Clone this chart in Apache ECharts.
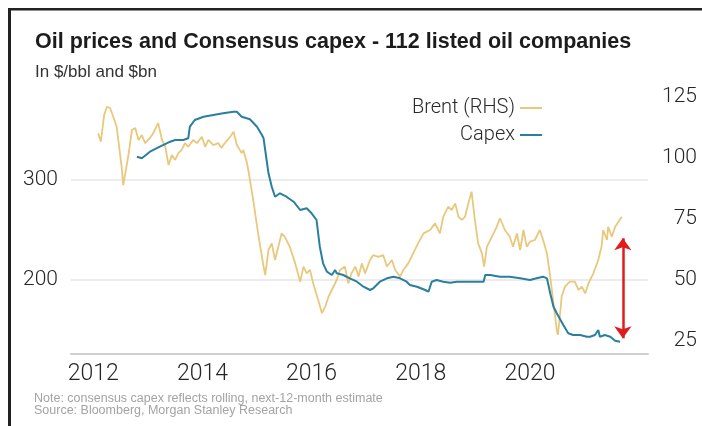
<!DOCTYPE html>
<html>
<head>
<meta charset="utf-8">
<script src="https://cdn.jsdelivr.net/npm/echarts@6/dist/echarts.min.js"></script>
<style>
html,body{margin:0;padding:0;background:#fff;}
#chart{width:702px;height:426px;}
</style>
</head>
<body>
<div id="chart"></div>
<script>
// ---- data ----
const brentDates = [2012.09,2012.14,2012.2,2012.25,2012.31,2012.43,2012.52,2012.55,2012.64,2012.71,2012.77,2012.83,2012.89,2012.95,
  2013.04,2013.1,2013.19,2013.26,2013.32,2013.38,2013.44,2013.5,2013.56,2013.62,2013.68,2013.74,2013.83,2013.9,2013.99,
  2014.05,2014.11,2014.2,2014.29,2014.35,2014.41,2014.51,2014.57,2014.63,2014.72,2014.75,2014.81,2014.84,2014.93,
  2015.02,2015.12,2015.15,2015.21,2015.27,2015.33,2015.39,2015.45,2015.51,2015.6,2015.7,2015.79,2015.85,2015.91,2015.97,
  2016.03,2016.12,2016.19,2016.25,2016.31,2016.37,2016.46,2016.52,2016.61,2016.67,2016.73,2016.8,2016.86,2016.92,2016.98,
  2017.07,2017.13,2017.22,2017.31,2017.38,2017.47,2017.53,2017.62,2017.68,2017.77,2017.86,2017.95,
  2018.05,2018.17,2018.26,2018.35,2018.41,2018.5,2018.57,2018.63,2018.69,2018.75,2018.81,2018.87,2018.93,2018.99,
  2019.05,2019.12,2019.16,2019.21,2019.3,2019.39,2019.45,2019.54,2019.63,2019.69,2019.76,2019.82,2019.88,2019.94,
  2020.0,2020.09,2020.18,2020.24,2020.31,2020.37,2020.43,2020.49,2020.51,2020.54,2020.58,2020.64,2020.73,2020.82,2020.89,2020.95,
  2021.01,2021.07,2021.16,2021.25,2021.31,2021.34,2021.41,2021.43,2021.5,2021.56,2021.62,2021.68];
const brentPrices = [110.1,106.7,117.6,121.0,120.5,112.8,96.4,88.9,100.5,111.5,112.3,107.4,109.4,106.1,
  108.2,110.2,114.3,107.4,104.6,97.1,101.2,99.2,102.0,103.3,106.1,104.6,107.4,106.1,108.7,
  104.6,107.4,105.3,106.1,104.1,106.1,108.7,110.8,105.3,102.0,103.3,98.5,95.1,82.8,
  69.1,55.5,52.0,62.3,65.0,58.2,63.6,69.1,67.7,63.6,56.8,49.3,55.5,52.7,54.1,
  48.6,41.8,36.4,39.1,43.2,45.9,50.0,54.1,55.5,48.6,52.7,55.5,51.4,56.8,52.7,
  58.2,60.2,59.5,60.2,55.5,58.2,54.1,51.4,54.1,56.8,60.9,65.0,
  69.1,70.5,73.2,69.1,75.9,80.0,78.7,81.4,75.9,74.6,75.9,81.4,86.2,74.6,
  65.0,60.9,55.5,63.6,67.7,71.8,75.3,70.5,67.7,63.6,69.1,62.3,70.5,63.6,
  65.7,66.4,70.5,66.4,60.9,51.4,40.5,29.5,27.5,33.6,43.2,47.3,49.3,49.3,45.9,47.3,
  44.5,48.6,52.7,58.2,63.6,70.5,66.4,71.8,67.7,71.8,73.9,75.9];

const capexDates = [2012.8,2012.89,2013.04,2013.22,2013.41,2013.5,2013.65,2013.74,2013.77,2013.86,
  2014.02,2014.2,2014.38,2014.57,2014.63,2014.72,2014.87,2015.0,2015.09,2015.12,2015.15,2015.21,2015.27,2015.33,
  2015.42,2015.54,2015.67,2015.79,2015.91,2016.0,2016.09,2016.15,2016.21,2016.28,2016.37,2016.43,2016.46,2016.58,
  2016.7,2016.83,2016.95,2017.07,2017.13,2017.25,2017.38,2017.5,2017.62,2017.74,2017.8,2017.93,
  2018.08,2018.14,2018.2,2018.29,2018.41,2018.54,2018.66,2018.84,2019.02,2019.15,2019.18,2019.27,2019.45,2019.63,2019.82,
  2020.0,2020.12,2020.24,2020.31,2020.37,2020.43,2020.49,2020.61,2020.7,2020.79,2020.92,
  2021.04,2021.1,2021.19,2021.25,2021.28,2021.37,2021.47,2021.56,2021.65];
const capexValues = [323.3,321.7,328.3,333.3,338.3,340,340,341.7,353.3,360,
  363.3,365,366.7,368.3,368.3,363.3,360.7,353.3,345,341.7,330,306.7,293.3,283.3,
  286.7,283.3,278.3,270,271.7,266.7,260,233.3,216.7,208.3,205,210,206.7,205,
  201.7,198.3,193.3,190,191.7,198.3,201.7,203.3,201.7,198.3,195,193.3,
  190,188.3,198.3,200,198.3,197.3,198.3,198.3,198.3,198.3,205,205,203.3,203.3,201.7,
  200,201.7,203.3,201.7,186.7,173.3,166.7,155,146.7,145,145,
  143.3,143.3,145,150,143.3,145,143.3,139.3,138.3];

const xTickLabels = [2012, 2014, 2016, 2018, 2020];
const leftTickLabels = [200, 300];
const rightTickLabels = [25, 50, 75, 100, 125];
const arrowYear = 2021.70, arrowHigh = 67.1, arrowLow = 26.1;

const zip = (a, b) => a.map((v, i) => [v, b[i]]);

const chart = echarts.init(document.getElementById('chart'));
const tickFont = 'Roboto, "DejaVu Sans", sans-serif';
const textFont = '"Liberation Sans", Arial, sans-serif';
chart.setOption({
  animation: false,
  backgroundColor: '#fff',
  title: [
    { text: 'Oil prices and Consensus capex - 112 listed oil companies', left: 35, top: 31, padding: 0,
      textStyle: { fontFamily: textFont, fontWeight: 'bold', fontSize: 21.5, color: '#1c1c1c' } },
    { text: 'In $/bbl and $bn', left: 35, top: 63.5, padding: 0,
      textStyle: { fontFamily: textFont, fontWeight: 'normal', fontSize: 17, color: '#333' } },
    { text: 'Note: consensus capex reflects rolling, next-12-month estimate', left: 34, top: 392, padding: 0,
      textStyle: { fontFamily: textFont, fontWeight: 'normal', fontSize: 12.5, color: '#a3a3a3' } },
    { text: 'Source: Bloomberg, Morgan Stanley Research', left: 34, top: 404.5, padding: 0,
      textStyle: { fontFamily: textFont, fontWeight: 'normal', fontSize: 12.5, color: '#a3a3a3' } }
  ],
  legend: {
    orient: 'vertical', align: 'right', right: 155, top: 93,
    itemWidth: 22, itemHeight: 2, itemGap: 7, icon: 'rect',
    data: ['Brent (RHS)', 'Capex'],
    textStyle: { fontFamily: tickFont, fontWeight: 300, fontSize: 20, color: '#2a2a2a' }
  },
  graphic: [
    { type: 'rect', shape: { x: 8, y: 8, width: 694, height: 2.5 }, style: { fill: '#222' }, silent: true },
    { type: 'rect', shape: { x: 8, y: 8, width: 3, height: 418 }, style: { fill: '#222' }, silent: true }
  ],
  grid: { left: 71, right: 54, top: 97, bottom: 72 },
  xAxis: {
    type: 'value', min: 2011.593, max: 2022.161,
    axisLine: { show: true, lineStyle: { color: '#cfcfcf', width: 2 } },
    axisTick: { show: false, customValues: xTickLabels },
    splitLine: { show: false },
    axisLabel: { customValues: xTickLabels, formatter: v => String(v), margin: 9,
      fontFamily: tickFont, fontWeight: 300, fontSize: 23, color: '#262626' }
  },
  yAxis: [
    { type: 'value', min: 126, max: 383, position: 'left',
      axisLine: { show: false }, axisTick: { show: false, customValues: leftTickLabels },
      splitLine: { show: true, lineStyle: { color: '#e6e6e6', width: 1.5 } },
      axisLabel: { customValues: leftTickLabels, margin: 13, fontFamily: tickFont, fontWeight: 300, fontSize: 21, color: '#262626' } },
    { type: 'value', min: 19.67, max: 125, position: 'right',
      axisLine: { show: false }, axisTick: { show: false, customValues: rightTickLabels },
      splitLine: { show: false },
      axisLabel: { customValues: rightTickLabels, align: 'right', margin: 49, fontFamily: tickFont, fontWeight: 300, fontSize: 21, color: '#262626' } }
  ],
  series: [
    { name: 'Brent (RHS)', type: 'line', yAxisIndex: 1, data: zip(brentDates, brentPrices),
      showSymbol: false, lineStyle: { color: '#e8c97c', width: 1.8 }, itemStyle: { color: '#e8c97c' }, z: 2,
      markLine: { silent: true, symbol: ['arrow', 'arrow'], symbolSize: [13, 12], label: { show: false },
        lineStyle: { color: '#e01c1c', width: 2.5, type: 'solid' },
        data: [[{ coord: [arrowYear, arrowHigh] }, { coord: [arrowYear, arrowLow] }]] } },
    { name: 'Capex', type: 'line', yAxisIndex: 0, data: zip(capexDates, capexValues),
      showSymbol: false, lineStyle: { color: '#2a7f9e', width: 2 }, itemStyle: { color: '#2a7f9e' }, z: 3 }
  ]
});
</script>
</body>
</html>
